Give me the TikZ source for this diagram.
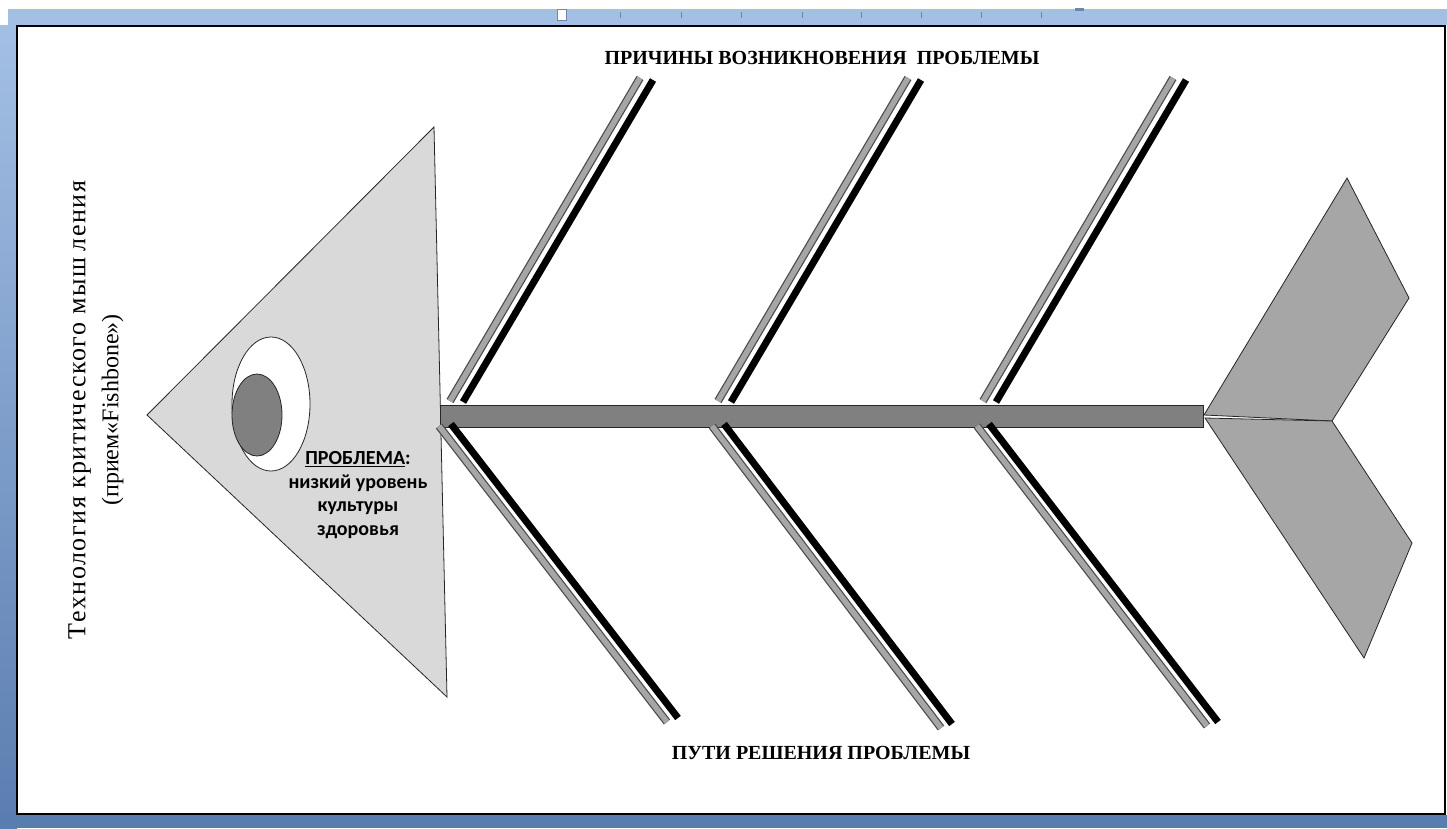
\documentclass[tikz,border=0pt]{standalone}
\usepackage{fontspec}
\setmainfont{Liberation Serif}
\newfontfamily\timesfont{Liberation Serif}
\newfontfamily\calibri{Carlito}
\newfontfamily\spaced[LetterSpace=6]{Liberation Serif}
\definecolor{headgray}{HTML}{D9D9D9}
\definecolor{spinegray}{HTML}{808080}
\definecolor{bonegray}{HTML}{A6A6A6}
\definecolor{tailgray}{HTML}{A6A6A6}
\definecolor{ribbon}{HTML}{A3BFE4}
\definecolor{ribbondark}{HTML}{5A7DB0}
\definecolor{tickblue}{HTML}{6F86A8}
\tikzset{
  outline/.style={draw=black!85, line width=0.8pt},
  boneshadow/.style={line width=7pt, black, line cap=butt},
  boneedge/.style={line width=8pt, black!70, line cap=butt},
  bonefill/.style={line width=5.5pt, bonegray, line cap=butt},
  titletext/.style={font=\timesfont\bfseries\fontsize{20}{24}\selectfont, inner sep=0pt},
}
\begin{document}
\begin{tikzpicture}[x=1pt,y=-1pt]
\useasboundingbox (0,0) rectangle (1447,828);
% window background
\fill[white] (0,0) rectangle (1447,828);
\fill[ribbon] (8,9) rectangle (1447,25);
\shade[top color=ribbon, bottom color=ribbondark] (0,25) rectangle (17,828);
\fill[ribbondark] (0,815) rectangle (1447,828);
\foreach \x in {620,681,741,802,861,921,981,1041} \draw[tickblue, line width=0.8pt] (\x,12) -- (\x,18);
\draw[fill=white, draw=tickblue, line width=1pt] (557,9) rectangle (566,20);
\fill[tickblue] (1075,8) rectangle (1084,11);
% page
\draw[fill=white, line width=1.3pt] (17,26) rectangle (1445,814);
% head
\draw[outline, fill=headgray] (147,415) -- (434,127) -- (447,697) -- cycle;
\draw[outline, fill=white] (271,404) ellipse [x radius=39, y radius=67];
\draw[outline, fill=spinegray] (257,415) ellipse [x radius=25, y radius=41];
\node[font=\calibri\bfseries\fontsize{20}{23.5}\selectfont, align=center, inner sep=0pt] (problem) at (358,495)
  {\underline{ПРОБЛЕМА}:\\низкий уровень\\культуры\\здоровья};
% spine
\draw[outline, fill=spinegray] (440,405) rectangle (1203,427);
% upper bones
\foreach \bx/\tx in {450/640, 718/908, 983/1173}{
  \draw[boneshadow] (\bx+13,402) -- (\tx+13,80);
  \draw[boneedge] (\bx,401) -- (\tx,78);
  \draw[bonefill] (\bx,401) -- (\tx,78);
}
% lower bones
\foreach \bx/\tx/\ty in {439/667/722, 712/941/728, 977/1207/726}{
  \draw[boneshadow] (\bx+12,424) -- (\tx+11,\ty-4);
  \draw[boneedge] (\bx,426) -- (\tx,\ty);
  \draw[bonefill] (\bx,426) -- (\tx,\ty);
}
% tail
\draw[outline, fill=tailgray] (1204,415) -- (1347,178) -- (1409,298) -- (1332,421) -- cycle;
\draw[outline, fill=tailgray] (1205,418) -- (1332,421) -- (1412,543) -- (1364,658) -- cycle;
% titles
\node[titletext] (causes) at (822,58) {ПРИЧИНЫ ВОЗНИКНОВЕНИЯ\ \ ПРОБЛЕМЫ};
\node[titletext] (ways) at (821,753) {ПУТИ РЕШЕНИЯ ПРОБЛЕМЫ};
\node[rotate=90, align=center, inner sep=0pt, font=\timesfont\fontsize{26}{33}\selectfont] (title) at (96,410)
  {{\spaced Технология критического мыш\kern6pt ления}\\{\fontsize{24}{33}\selectfont(прием«Fishbone»)}};
\end{tikzpicture}
\end{document}
